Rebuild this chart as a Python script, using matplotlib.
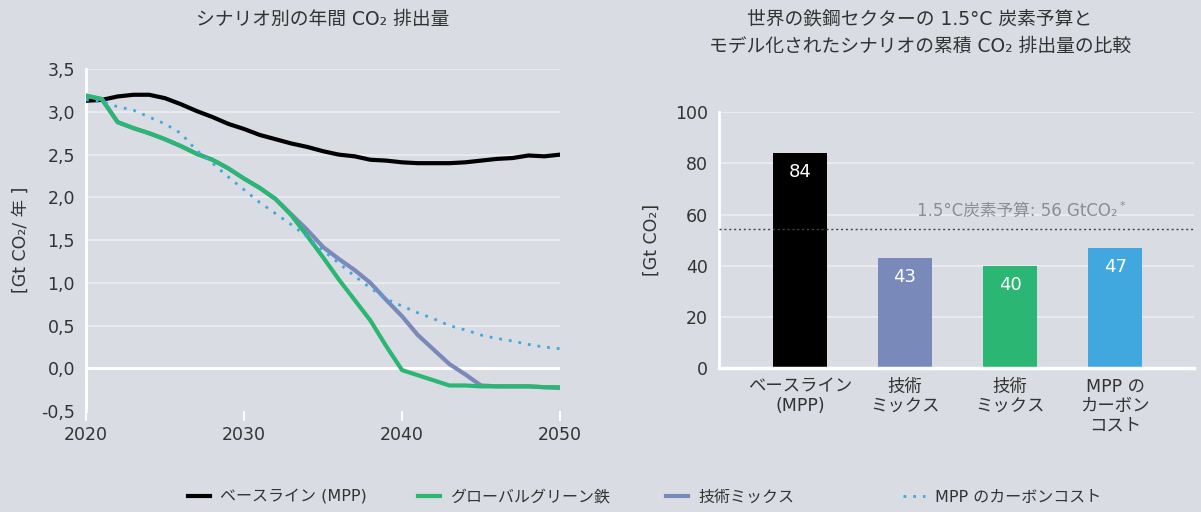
import matplotlib
matplotlib.use("Agg")
import matplotlib.pyplot as plt
from matplotlib.ticker import FuncFormatter

plt.rcParams['font.family'] = ['DejaVu Sans', 'Noto Sans CJK JP']

years = list(range(2020, 2051))
baseline = [3.13, 3.14, 3.18, 3.20, 3.20, 3.16, 3.09, 3.01, 2.94, 2.86, 2.80,
            2.73, 2.68, 2.63, 2.59, 2.54, 2.50, 2.48, 2.44, 2.43, 2.41,
            2.40, 2.40, 2.40, 2.41, 2.43, 2.45, 2.46, 2.49, 2.48, 2.50]
green = [3.19, 3.15, 2.88, 2.81, 2.75, 2.68, 2.60, 2.51, 2.44, 2.34, 2.22,
         2.11, 1.98, 1.79, 1.55, 1.30, 1.04, 0.80, 0.56, 0.26, -0.02,
         -0.08, -0.14, -0.20, -0.20, -0.21, -0.21, -0.21, -0.21, -0.22, -0.22]
techmix = [3.19, 3.15, 2.88, 2.81, 2.75, 2.68, 2.60, 2.51, 2.44, 2.34, 2.22,
           2.11, 1.98, 1.80, 1.62, 1.42, 1.28, 1.15, 1.00, 0.80, 0.61,
           0.39, 0.22, 0.05, -0.07, -0.20, -0.21, -0.21, -0.21, -0.22, -0.23]
carbon_cost = [3.14, 3.12, 3.06, 3.02, 2.94, 2.86, 2.75, 2.55, 2.40, 2.24, 2.09,
               1.94, 1.81, 1.68, 1.54, 1.38, 1.23, 1.08, 0.94, 0.81, 0.73,
               0.65, 0.58, 0.50, 0.45, 0.39, 0.35, 0.32, 0.28, 0.25, 0.23]

bar_labels = ["ベースライン\n(MPP)", "技術\nミックス", "技術\nミックス", "MPP の\nカーボン\nコスト"]
bar_values = [84, 43, 40, 47]
budget = 54.5

legend_labels = ["ベースライン (MPP)", "グローバルグリーン鉄", "技術ミックス", "MPP のカーボンコスト"]

BG = "#D9DCE2"
C_BLACK = "#000000"
C_GREEN = "#2BB673"
C_GREY = "#7889BA"
C_BLUE = "#41A8DF"
TXT = "#333333"
GRID = "#ECEDF0"

fig = plt.figure(figsize=(12.01, 5.12), dpi=100, facecolor=BG)

# ---- Left chart ----
ax1 = fig.add_axes([0.0716, 0.197, 0.3947, 0.668], facecolor=BG)
ax1.set_xlim(2020, 2050)
ax1.set_ylim(-0.5, 3.5)
ax1.set_yticks([-0.5, 0, 0.5, 1.0, 1.5, 2.0, 2.5, 3.0, 3.5])
ax1.set_xticks([2020, 2030, 2040, 2050])
ax1.yaxis.set_major_formatter(FuncFormatter(lambda v, p: f"{v:.1f}".replace(".", ",")))
for y in [0.5, 1.0, 1.5, 2.0, 2.5, 3.0, 3.5]:
    ax1.axhline(y, color=GRID, lw=1.2, zorder=0)
ax1.axhline(0, color="white", lw=2.2, zorder=1)
for s in ["top", "right", "bottom"]:
    ax1.spines[s].set_visible(False)
ax1.spines["left"].set_color("white")
ax1.spines["left"].set_linewidth(2)
ax1.tick_params(axis="y", length=0, labelsize=12.5, labelcolor=TXT, pad=8)
ax1.tick_params(axis="x", length=7, width=1.5, color="white", labelsize=12.5, labelcolor=TXT, direction="out")

l1, = ax1.plot(years, baseline, color=C_BLACK, lw=3, zorder=3)
l3, = ax1.plot(years, techmix, color=C_GREY, lw=3, zorder=3)
l2, = ax1.plot(years, green, color=C_GREEN, lw=3, zorder=4)
l4, = ax1.plot(years, carbon_cost, color=C_BLUE, lw=2, ls=(0, (1, 2.5)), zorder=5)

ax1.set_ylabel("[Gt CO₂/ 年 ]", fontsize=12.5, color=TXT, labelpad=8)
ax1.set_title("シナリオ別の年間 CO₂ 排出量", fontsize=13.5, color=TXT, pad=32)

# ---- Right chart ----
ax2 = fig.add_axes([0.5987, 0.281, 0.3955, 0.5], facecolor=BG)
xpos = list(range(len(bar_values)))
ax2.set_xlim(-0.77, 3.75)
ax2.set_ylim(0, 100)
ax2.set_yticks([0, 20, 40, 60, 80, 100])
for y in [20, 40, 60, 80, 100]:
    ax2.axhline(y, color=GRID, lw=1.2, zorder=0)
bars = ax2.bar(xpos, bar_values, width=0.51, color=[C_BLACK, C_GREY, C_GREEN, C_BLUE], zorder=2)
for x, v in zip(xpos, bar_values):
    ax2.text(x, v - 7.5, f"{v}", ha="center", va="center", color="white", fontsize=13, zorder=3)
ax2.axhline(budget, color="#444444", lw=1, ls=(0, (1.5, 2)), zorder=3)
bt = ax2.text(2.07, budget + 3.2, "1.5°C炭素予算: 56 GtCO₂", ha="center", va="bottom",
              color="#8A8D92", fontsize=12)
ax2.annotate("*", xy=(1, 1), xycoords=bt, xytext=(1, 1), textcoords="offset points",
             ha="left", va="top", color="#8A8D92", fontsize=8)
for s in ["top", "right"]:
    ax2.spines[s].set_visible(False)
ax2.spines["left"].set_color("white")
ax2.spines["left"].set_linewidth(2)
ax2.spines["bottom"].set_color("white")
ax2.spines["bottom"].set_linewidth(2.5)
ax2.set_xticks(xpos)
ax2.set_xticklabels(bar_labels, linespacing=1.1)
ax2.tick_params(axis="x", length=0, labelsize=12.5, labelcolor=TXT, pad=7)
ax2.tick_params(axis="y", length=0, labelsize=12.5, labelcolor=TXT, pad=8)
ax2.set_ylabel("[Gt CO₂]", fontsize=12.5, color=TXT, labelpad=10)

fig.text(0.766, 0.963, "世界の鉄鋼セクターの 1.5°C 炭素予算と", ha="center", va="center", fontsize=13.5, color=TXT)
fig.text(0.766, 0.910, "モデル化されたシナリオの累積 CO₂ 排出量の比較", ha="center", va="center", fontsize=13.5, color=TXT)

# legend entries placed individually (Excel-style fixed slots)
handles = [l1, l2, l3, l4]
starts_px = [188, 418, 666, 903]
for h, lab, xs in zip(handles, legend_labels, starts_px):
    fig.legend([h], [lab], loc="center left", bbox_to_anchor=(xs / 1201, 0.029),
               frameon=False, fontsize=11.5, handlelength=1.4, handletextpad=0.6,
               borderpad=0, borderaxespad=0, labelcolor=TXT)

fig.savefig("out.png", dpi=100, facecolor=BG)
